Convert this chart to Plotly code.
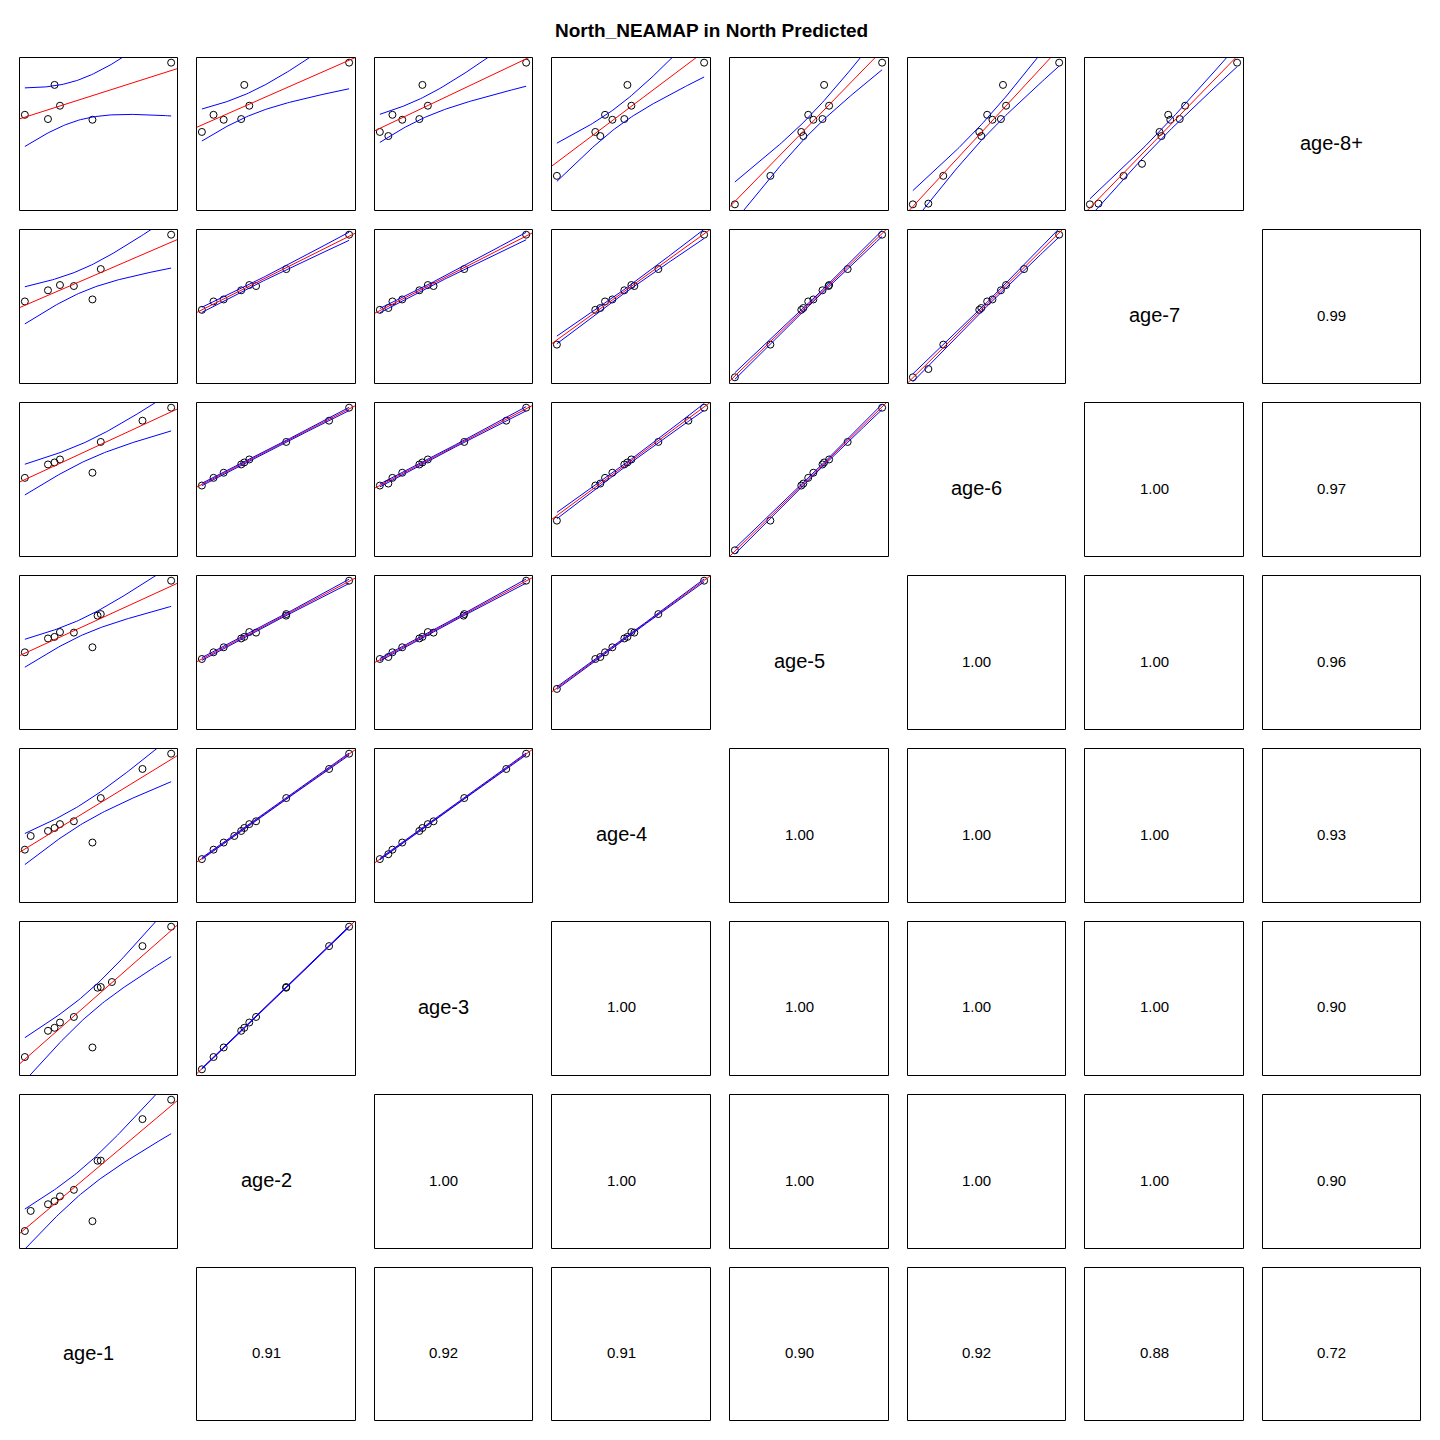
import numpy as np
import plotly.graph_objects as go

nan = np.nan

# ---- data (one entry per cohort row; nan = not available) ----
age_labels = ["age-1", "age-2", "age-3", "age-4", "age-5", "age-6", "age-7", "age-8+"]

age1 = [nan, nan, nan, nan, nan, nan, 0.000, 0.158, 0.203, 0.240, 0.335, 0.462, 0.040, 0.497, 0.519, 0.595, 0.804, 1.000]
age2 = [nan, nan, nan, nan, nan, 0.000, 0.079, 0.267, 0.288, 0.322, 0.368, 0.148, 0.220, 0.572, 0.573, nan, 0.864, 1.000]
age3 = [nan, nan, nan, nan, 0.058, 0.000, 0.086, 0.270, 0.291, 0.328, 0.367, 0.153, nan, 0.572, 0.577, 0.612, 0.864, 1.000]
age4 = [nan, nan, nan, 0.000, 0.295, 0.261, 0.327, 0.458, 0.479, 0.506, 0.526, 0.377, 0.423, nan, 0.689, nan, 0.893, 1.000]
age5 = [nan, nan, 0.000, 0.241, 0.465, 0.451, 0.498, 0.595, 0.606, 0.640, 0.636, 0.533, nan, 0.755, 0.766, nan, nan, 1.000]
age6 = [nan, 0.106, 0.000, 0.208, 0.468, 0.454, 0.508, 0.602, 0.616, 0.637, nan, 0.544, nan, nan, 0.760, nan, 0.909, 1.000]
age7 = [0.354, 0.058, 0.000, 0.229, 0.486, 0.473, 0.532, 0.610, nan, 0.647, 0.640, 0.546, nan, nan, 0.759, nan, nan, 1.000]
age8 = [0.286, 0.005, 0.000, 0.201, 0.482, 0.511, 0.632, 0.602, 0.843, 0.696, nan, 0.597, nan, nan, nan, nan, nan, 1.000]

# correlation labels shown in the lower panels (row age vs later ages)
cor_age1 = ["0.91", "0.92", "0.91", "0.90", "0.92", "0.88", "0.72"]
cor_age2 = ["1.00", "1.00", "1.00", "1.00", "1.00", "0.90"]
cor_age3 = ["1.00", "1.00", "1.00", "1.00", "0.90"]
cor_age4 = ["1.00", "1.00", "1.00", "0.93"]
cor_age5 = ["1.00", "1.00", "0.96"]
cor_age6 = ["1.00", "0.97"]
cor_age7 = ["0.99"]

title_text = "North_NEAMAP in North Predicted"

# ---- helpers ----
data = [np.array(a, dtype=float) for a in (age1, age2, age3, age4, age5, age6, age7, age8)]
cors = [cor_age1, cor_age2, cor_age3, cor_age4, cor_age5, cor_age6, cor_age7]

T_Q = {2: 4.303, 3: 3.182, 4: 2.776, 5: 2.571, 6: 2.447, 7: 2.365, 8: 2.306,
       9: 2.262, 10: 2.228, 11: 2.201, 12: 2.179, 13: 2.160, 14: 2.145}

W = H = 1440
cols_left = [19, 196, 374, 551, 729, 907, 1084, 1262]
cols_right = [177, 355, 532, 710, 888, 1065, 1243, 1420]
rows_top = [57, 229, 402, 575, 748, 921, 1094, 1267]
rows_bottom = [210, 383, 556, 729, 902, 1075, 1248, 1420]

FONT = "Liberation Sans, Arial, sans-serif"

def rng(v):
    v = v[~np.isnan(v)]
    lo, hi = v.min(), v.max()
    d = hi - lo
    return [lo - 0.04 * d, hi + 0.04 * d]

fig = go.Figure()
layout = {}
shapes = []
annotations = []
ax = 0

for r in range(8):
    for c in range(8):
        i = 7 - r
        j = c
        x0, x1 = cols_left[c], cols_right[c]
        y0, y1 = rows_top[r], rows_bottom[r]
        cx, cy = (x0 + x1) / 2 - 9.5, (y0 + y1) / 2 + 9
        if i == j:
            annotations.append(dict(x=cx / W, y=1 - cy / H, xref="paper", yref="paper",
                                    text=age_labels[i], showarrow=False,
                                    font=dict(family=FONT, size=20, color="black"),
                                    xanchor="center", yanchor="middle"))
            continue
        shapes.append(dict(type="rect", xref="paper", yref="paper",
                           x0=(x0 + 0.5) / W, x1=(x1 + 0.5) / W,
                           y0=1 - (y1 + 0.5) / H, y1=1 - (y0 + 0.5) / H,
                           line=dict(color="black", width=1), fillcolor="rgba(0,0,0,0)"))
        if j > i:
            annotations.append(dict(x=cx / W, y=1 - cy / H, xref="paper", yref="paper",
                                    text=cors[i][j - i - 1], showarrow=False,
                                    font=dict(family=FONT, size=15, color="black"),
                                    xanchor="center", yanchor="middle"))
            continue
        # scatter panel: x = variable j, y = variable i
        ax += 1
        xa = "x" if ax == 1 else f"x{ax}"
        ya = "y" if ax == 1 else f"y{ax}"
        xr = rng(data[j])
        yr = rng(data[i])
        layout["xaxis" if ax == 1 else f"xaxis{ax}"] = dict(
            domain=[x0 / W, x1 / W], range=xr, visible=False, anchor=ya, fixedrange=True)
        layout["yaxis" if ax == 1 else f"yaxis{ax}"] = dict(
            domain=[1 - y1 / H, 1 - y0 / H], range=yr, visible=False, anchor=xa, fixedrange=True)
        xv, yv = data[j], data[i]
        m = ~np.isnan(xv) & ~np.isnan(yv)
        xs, ys = xv[m], yv[m]
        n = len(xs)
        fig.add_trace(go.Scatter(x=xs, y=ys, mode="markers", xaxis=xa, yaxis=ya,
                                 marker=dict(symbol="circle-open", size=7, color="black",
                                             line=dict(width=1, color="black")),
                                 showlegend=False, hoverinfo="skip"))
        xbar, ybar = xs.mean(), ys.mean()
        sxx = ((xs - xbar) ** 2).sum()
        b = ((xs - xbar) * (ys - ybar)).sum() / sxx
        a = ybar - b * xbar
        fig.add_trace(go.Scatter(x=xr, y=[a + b * xr[0], a + b * xr[1]], mode="lines",
                                 xaxis=xa, yaxis=ya, line=dict(color="#FF0000", width=1),
                                 showlegend=False, hoverinfo="skip"))
        res = ys - (a + b * xs)
        s = np.sqrt((res ** 2).sum() / (n - 2))
        t = T_Q.get(n - 2, 2.1)
        gx = np.linspace(xs.min(), xs.max(), 80)
        fit = a + b * gx
        se = s * np.sqrt(1.0 / n + (gx - xbar) ** 2 / sxx)
        for sign in (1, -1):
            fig.add_trace(go.Scatter(x=gx, y=fit + sign * t * se, mode="lines",
                                     xaxis=xa, yaxis=ya, line=dict(color="#0000FF", width=1),
                                     showlegend=False, hoverinfo="skip"))

annotations.append(dict(x=711.5 / W, y=1 - 30 / H, xref="paper", yref="paper",
                        text="<b>" + title_text + "</b>", showarrow=False,
                        font=dict(family=FONT, size=19, color="black"),
                        xanchor="center", yanchor="middle"))

fig.update_layout(width=W, height=H, margin=dict(l=0, r=0, t=0, b=0),
                  paper_bgcolor="white", plot_bgcolor="white",
                  shapes=shapes, annotations=annotations, showlegend=False, **layout)

fig.write_html("out.html")
